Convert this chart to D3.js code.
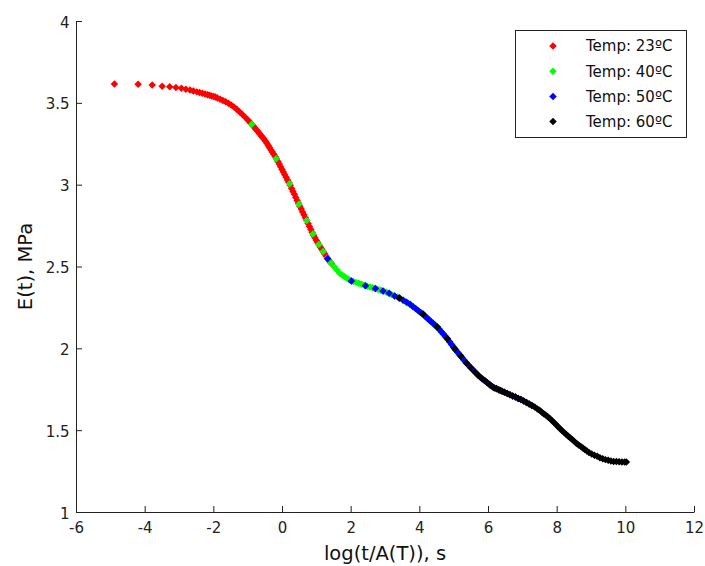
<!DOCTYPE html>
<html lang="en">
<head>
  <meta charset="UTF-8">
  <title>E(t) master curve</title>
  <script src="https://d3js.org/d3.v7.min.js"></script>
  <style>
    body { margin: 0; background: #fff; }
    svg { display: block; }
  </style>
</head>
<body>
  <svg id="chart"></svg>
  <script>
    // axis ticks
    const xTicks = [-6, -4, -2, 0, 2, 4, 6, 8, 10, 12];
    const yTicks = [1, 1.5, 2, 2.5, 3, 3.5, 4];

    const names = ["Temp: 23ºC", "Temp: 40ºC", "Temp: 50ºC", "Temp: 60ºC"];
    const colors = ["#ff0000", "#00ff00", "#0000ff", "#000000"];

    // [log(t/A(T)), E(t)]
    const temp23 = [
      [-4.88,3.615],[-4.19,3.614],[-3.78,3.609],[-3.49,3.602],[-3.27,3.598],[-3.09,3.594],[-2.93,3.589],[-2.80,3.583],
      [-2.68,3.578],[-2.58,3.573],[-2.48,3.567],[-2.40,3.563],[-2.32,3.559],[-2.24,3.554],[-2.17,3.550],[-2.11,3.546],
      [-2.05,3.542],[-1.99,3.538],[-1.94,3.535],[-1.88,3.530],[-1.80,3.522],[-1.72,3.514],[-1.64,3.506],[-1.56,3.497],
      [-1.48,3.487],[-1.40,3.475],[-1.32,3.461],[-1.24,3.446],[-1.16,3.430],[-1.08,3.414],[-1.00,3.397],[-0.96,3.388],
      [-0.92,3.378],[-0.88,3.369],[-0.84,3.359],[-0.80,3.349],[-0.76,3.339],[-0.72,3.329],[-0.68,3.318],[-0.64,3.308],
      [-0.60,3.298],[-0.56,3.288],[-0.52,3.278],[-0.48,3.266],[-0.44,3.253],[-0.40,3.239],[-0.36,3.226],[-0.32,3.212],
      [-0.28,3.199],[-0.24,3.186],[-0.20,3.172],[-0.16,3.158],[-0.12,3.142],[-0.08,3.126],[-0.04,3.110],[0.00,3.093],
      [0.04,3.077],[0.08,3.061],[0.12,3.045],[0.16,3.029],[0.20,3.013],[0.24,2.996],[0.28,2.977],[0.32,2.959],
      [0.36,2.941],[0.40,2.922],[0.44,2.904],[0.48,2.886],[0.52,2.868],[0.56,2.851],[0.60,2.833],[0.64,2.816],
      [0.68,2.798],[0.72,2.781],[0.76,2.763],[0.80,2.745],[0.84,2.726],[0.88,2.708],[0.92,2.691],[0.96,2.676],
      [1.00,2.661],[1.04,2.646],[1.08,2.631],[1.12,2.618],[1.16,2.605],[1.20,2.592],[1.24,2.578],[1.28,2.564],
      [1.32,2.550],[1.36,2.539],[1.40,2.528],[1.44,2.518]
    ];
    const temp40 = [
      [-0.88,3.369],[-0.17,3.158],[0.22,3.005],[0.49,2.881],[0.72,2.781],[0.90,2.699],[1.07,2.635],[1.20,2.592],
      [1.32,2.550],[1.42,2.523],[1.52,2.498],[1.60,2.478],[1.68,2.459],[1.76,2.447],[1.83,2.437],[1.89,2.428],
      [1.95,2.420],[2.01,2.413],[2.08,2.408],[2.16,2.403],[2.24,2.397],[2.32,2.391],[2.40,2.385],[2.48,2.380],
      [2.56,2.375],[2.64,2.370],[2.72,2.365],[2.80,2.360],[2.88,2.355],[2.96,2.349],[3.04,2.342],[3.12,2.336],
      [3.20,2.328],[3.28,2.320],[3.36,2.313],[3.44,2.305],[3.52,2.295],[3.60,2.285],[3.68,2.276],[3.76,2.264],
      [3.84,2.251],[3.92,2.238],[4.00,2.225],[4.08,2.212],[4.16,2.198],[4.22,2.187],[4.28,2.175],[4.34,2.164],
      [4.40,2.153],[4.46,2.141],[4.52,2.130],[4.58,2.116],[4.64,2.101],[4.70,2.087],[4.76,2.073],[4.82,2.057],
      [4.88,2.040],[4.94,2.023],[5.00,2.006],[5.06,1.990],[5.12,1.975],[5.18,1.959],[5.24,1.944],[5.30,1.928]
    ];
    const temp50 = [
      [1.33,2.547],[2.02,2.412],[2.43,2.383],[2.72,2.365],[2.94,2.351],[3.12,2.336],[3.28,2.320],[3.41,2.308],
      [3.53,2.294],[3.63,2.282],[3.73,2.269],[3.81,2.256],[3.89,2.243],[3.97,2.230],[4.04,2.219],[4.10,2.209],
      [4.16,2.198],[4.22,2.187],[4.28,2.175],[4.33,2.166],[4.40,2.153],[4.46,2.141],[4.52,2.130],[4.58,2.116],
      [4.64,2.101],[4.70,2.087],[4.76,2.073],[4.82,2.057],[4.88,2.040],[4.94,2.023],[5.00,2.006],[5.06,1.990],
      [5.12,1.975],[5.18,1.959],[5.24,1.944],[5.30,1.928],[5.36,1.913],[5.42,1.899],[5.48,1.886],[5.54,1.873],
      [5.60,1.860],[5.66,1.847],[5.72,1.834],[5.78,1.823],[5.84,1.813],[5.90,1.803],[5.96,1.793],[6.02,1.783],
      [6.08,1.773],[6.16,1.761],[6.24,1.754],[6.32,1.746],[6.40,1.739],[6.48,1.732],[6.56,1.724],[6.64,1.717],
      [6.72,1.709],[6.80,1.702],[6.88,1.694],[6.96,1.687],[7.04,1.678],[7.12,1.669],[7.20,1.660],[7.28,1.650]
    ];
    const temp60 = [
      [3.42,2.307],[4.11,2.210],[4.52,2.130],[4.81,2.060],[5.03,1.998],[5.21,1.951],[5.37,1.910],[5.50,1.882],
      [5.62,1.856],[5.72,1.834],[5.82,1.816],[5.90,1.803],[5.98,1.790],[6.06,1.776],[6.13,1.765],[6.19,1.758],
      [6.25,1.753],[6.31,1.747],[6.36,1.743],[6.42,1.737],[6.48,1.732],[6.56,1.724],[6.64,1.717],[6.72,1.709],
      [6.80,1.702],[6.88,1.694],[6.96,1.687],[7.04,1.678],[7.12,1.669],[7.20,1.660],[7.28,1.650],[7.36,1.641],
      [7.44,1.630],[7.50,1.621],[7.56,1.611],[7.62,1.601],[7.68,1.592],[7.74,1.582],[7.80,1.572],[7.86,1.559],
      [7.92,1.547],[7.98,1.534],[8.04,1.521],[8.10,1.509],[8.16,1.496],[8.22,1.485],[8.28,1.474],[8.34,1.463],
      [8.40,1.452],[8.46,1.441],[8.52,1.430],[8.58,1.419],[8.64,1.410],[8.70,1.401],[8.76,1.391],[8.82,1.382],
      [8.88,1.372],[8.94,1.363],[9.02,1.354],[9.10,1.347],[9.18,1.340],[9.26,1.332],[9.34,1.325],[9.42,1.320],
      [9.50,1.316],[9.58,1.312],[9.66,1.309],[9.74,1.308],[9.82,1.307],[9.90,1.306],[9.98,1.305],[10.03,1.305]
    ];
    const series = [temp23, temp40, temp50, temp60];

    const width = 705;
    const height = 566;
    const font = '"DejaVu Sans", "Liberation Sans", Arial, sans-serif';

    const svg = d3.select("#chart")
      .attr("width", width)
      .attr("height", height)
      .style("font-family", font);

    const x = d3.scaleLinear().domain([-6, 12]).range([76, 694]);
    const y = d3.scaleLinear().domain([1, 4]).range([512, 21]);

    // axes: only left and bottom, ticks pointing inward
    const gx = svg.append("g")
      .attr("transform", `translate(0,${y(1)})`)
      .call(d3.axisBottom(x)
        .tickValues(xTicks)
        .tickFormat(d => String(d))
        .tickSizeInner(-6)
        .tickSizeOuter(0)
        .tickPadding(10.5));

    const gy = svg.append("g")
      .attr("transform", `translate(${x(-6)},0)`)
      .call(d3.axisLeft(y)
        .tickValues(yTicks)
        .tickFormat(d => String(d))
        .tickSizeInner(-6)
        .tickSizeOuter(0)
        .tickPadding(6.5));

    [gx, gy].forEach(g => g
      .attr("color", "#222")
      .attr("font-family", font)
      .attr("font-size", 15));
    gy.selectAll(".tick text").attr("dy", "0.4em");

    svg.append("text")
      .attr("x", (x(-6) + x(12)) / 2)
      .attr("y", 560)
      .attr("text-anchor", "middle")
      .attr("font-size", 19.5)
      .attr("fill", "#111")
      .text("log(t/A(T)), s");

    svg.append("text")
      .attr("transform", `translate(32,${(y(1) + y(4)) / 2}) rotate(-90)`)
      .attr("text-anchor", "middle")
      .attr("font-size", 19.5)
      .attr("fill", "#111")
      .text("E(t), MPa");

    // diamond markers
    const marker = d3.symbol(d3.symbolSquare, 28);

    series.forEach((pts, i) => {
      svg.append("g")
        .selectAll("path")
        .data(pts)
        .join("path")
        .attr("d", marker)
        .attr("transform", d => `translate(${x(d[0])},${y(d[1])}) rotate(45)`)
        .attr("fill", colors[i]);
    });

    // legend
    const legend = svg.append("g");
    legend.append("rect")
      .attr("x", 515.5)
      .attr("y", 30.5)
      .attr("width", 171)
      .attr("height", 107)
      .attr("fill", "#fff")
      .attr("stroke", "#222");

    const rows = legend.selectAll("g.row")
      .data(names)
      .join("g")
      .attr("class", "row")
      .attr("transform", (d, i) => `translate(0,${46 + i * 25.2})`);

    rows.append("path")
      .attr("d", marker)
      .attr("transform", "translate(553,0) rotate(45)")
      .attr("fill", (d, i) => colors[i]);

    rows.append("text")
      .attr("x", 586)
      .attr("dy", "0.36em")
      .attr("font-size", 15)
      .attr("fill", "#111")
      .text(d => d);
  </script>
</body>
</html>
